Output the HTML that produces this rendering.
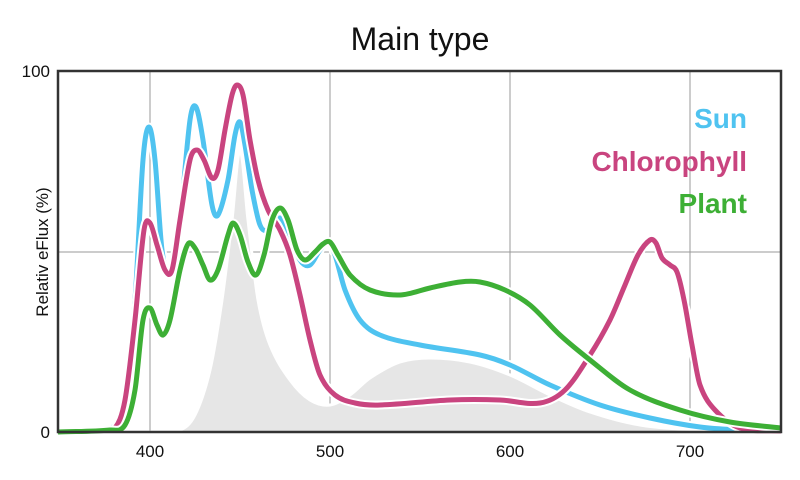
<!DOCTYPE html>
<html><head><meta charset="utf-8"><style>
body{margin:0;background:#fff;}
svg{display:block;font-family:"Liberation Sans",sans-serif;}
</style></head><body>
<svg id="s" width="800" height="480" viewBox="0 0 800 480">
<rect width="800" height="480" fill="#fff"/>
<text x="420" y="50" font-size="32" text-anchor="middle" fill="#111">Main type</text>
<g stroke="#999" stroke-width="1">
<line x1="150" y1="71" x2="150" y2="432"/><line x1="330" y1="71" x2="330" y2="432"/>
<line x1="510" y1="71" x2="510" y2="432"/><line x1="690" y1="71" x2="690" y2="432"/>
<line x1="58" y1="252" x2="781" y2="252"/>
</g>
<g id="curves"></g>
<rect x="58" y="71" width="723" height="361" fill="none" stroke="#333" stroke-width="2.5"/>
<g font-size="17" fill="#111">
<text x="50" y="77" text-anchor="end">100</text>
<text x="50" y="438" text-anchor="end">0</text>
<text x="150" y="457" text-anchor="middle">400</text>
<text x="330" y="457" text-anchor="middle">500</text>
<text x="510" y="457" text-anchor="middle">600</text>
<text x="690" y="457" text-anchor="middle">700</text>
<text transform="translate(48,252) rotate(-90)" text-anchor="middle">Relativ eFlux (%)</text>
</g>
<g font-size="28" font-weight="bold" text-anchor="end">
<text x="747" y="128" fill="#4fc3f0">Sun</text>
<text x="747" y="171" fill="#c9447f">Chlorophyll</text>
<text x="747" y="213" fill="#3daf35">Plant</text>
</g>
</svg>
<script>
function cr(p){const n=p.length,m=[];for(let i=0;i<n;i++){const a=p[Math.max(0,i-1)],c=p[Math.min(n-1,i+1)];m.push((c[1]-a[1])/(c[0]-a[0]));}
let d="M"+p[0][0]+","+p[0][1];for(let i=0;i<n-1;i++){const b=p[i],c=p[i+1],dx=(c[0]-b[0])/3;d+=" C"+(b[0]+dx).toFixed(1)+","+(b[1]+m[i]*dx).toFixed(1)+" "+(c[0]-dx).toFixed(1)+","+(c[1]-m[i+1]*dx).toFixed(1)+" "+c[0]+","+c[1];}return d;}
const gray=[[58,432],[150,432],[180,430],[195,415],[210,370],[222,300],[232,220],[240,150],[248,220],[258,300],[270,345],[290,380],[310,400],[330,405],[350,395],[370,378],[400,362],[430,358],[470,362],[510,375],[550,395],[590,412],[640,425],[700,430],[781,432]];
const sun=[[58,432],[100,430],[115,425],[125,400],[135,300],[143,160],[149,127],[155,160],[162,250],[170,275],[180,220],[190,120],[196,107],[203,140],[212,205],[218,215],[228,180],[235,135],[240,122],[245,145],[252,190],[260,225],[268,230],[280,218],[290,235],[300,260],[310,265],[320,250],[328,243],[335,255],[345,290],[360,320],[380,335],[420,345],[480,355],[510,365],[550,385],[600,405],[650,418],[700,427],[740,430],[781,431]];
const chl=[[58,432],[100,431],[115,428],[125,400],[135,320],[144,230],[150,223],[157,245],[165,270],[172,270],[180,220],[190,160],[197,150],[204,160],[212,178],[218,170],[225,130],[232,95],[237,85],[243,95],[250,140],[258,180],[268,210],[280,230],[290,255],[300,295],[310,340],[320,375],[335,395],[355,403],[380,405],[450,400],[500,400],[540,403],[565,390],[590,355],[610,320],[625,285],[638,255],[650,240],[656,243],[662,258],[670,265],[677,272],[684,300],[692,345],[700,385],[715,410],[740,428],[781,431]];
const pl=[[58,432],[110,430],[125,425],[135,390],[143,320],[150,308],[157,325],[163,335],[170,320],[180,270],[188,244],[195,248],[203,265],[210,280],[218,270],[228,235],[233,223],[240,235],[248,262],[256,275],[264,255],[272,220],[280,208],[288,220],[297,250],[305,260],[315,252],[323,244],[330,242],[338,255],[350,275],[370,290],[400,295],[430,288],[460,282],[480,282],[505,290],[530,305],[560,335],[590,360],[630,390],[680,410],[730,422],[781,428]];
let h='<path d="'+cr(gray)+' L781,432 L58,432Z" fill="#e6e6e6"/>';
h+='<path d="'+cr(gray)+'" fill="none" stroke="#fff" stroke-width="3"/>';
[[sun,"#4fc3f0"],[chl,"#c9447f"],[pl,"#3daf35"]].forEach(([p,c])=>{const d=cr(p);h+='<path d="'+d+'" fill="none" stroke="#fff" stroke-width="9" stroke-linejoin="round"/><path d="'+d+'" fill="none" stroke="'+c+'" stroke-width="5" stroke-linejoin="round"/>';});
document.getElementById("curves").innerHTML=h;
</script>
</body></html>
